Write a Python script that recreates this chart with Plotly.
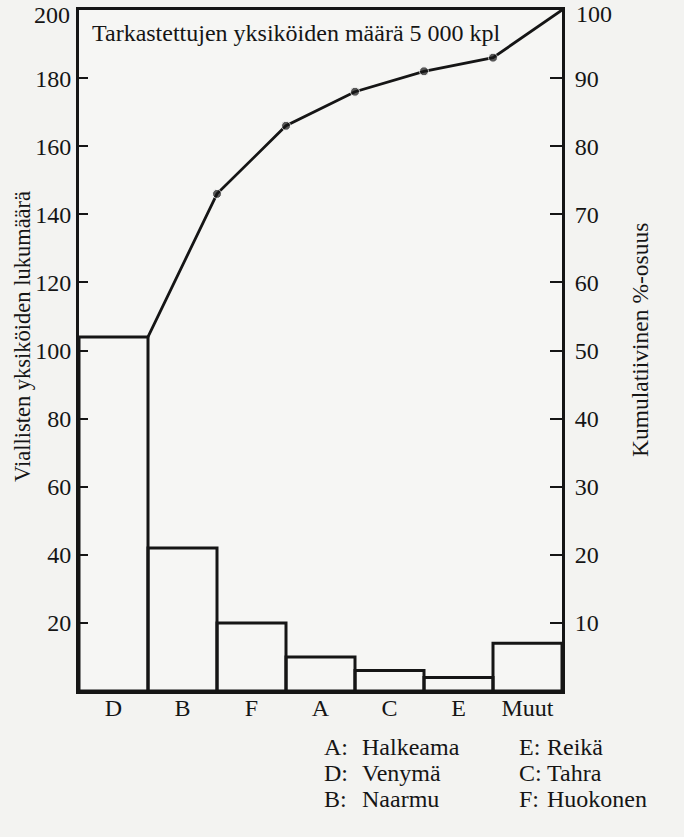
import plotly.graph_objects as go

categories = ["D", "B", "F", "A", "C", "E", "Muut"]
counts = [104, 42, 20, 10, 6, 4, 14]
cum_pct = [52, 73, 83, 88, 91, 93, 100]
left_ticks = [20, 40, 60, 80, 100, 120, 140, 160, 180, 200]
right_ticks = [10, 20, 30, 40, 50, 60, 70, 80, 90, 100]
key_codes = ["A", "D", "B", "E", "C", "F"]
key_names = ["Halkeama", "Venymä", "Naarmu", "Reikä", "Tahra", "Huokonen"]
title_text = "Tarkastettujen yksiköiden määrä 5 000 kpl"
left_title = "Viallisten yksiköiden lukumäärä"
right_title = "Kumulatiivinen %-osuus"

FONT = "Liberation Serif"
INK = "#151515"
W, H = 684, 837
L, T = 79, 10
pw, ph = 483, 681
R = W - L - pw
B = H - T - ph

def px(x):
    return (x - L) / pw

def py(y):
    return (T + ph - y) / ph

xs = list(range(len(categories)))
line_x = [i + 0.5 for i in xs]
msizes = [0] + [9] * (len(categories) - 2) + [0]

# top tick labels are drawn as annotations (plotly culls labels that overflow the page top)
left_text = [str(v) if v != left_ticks[-1] else "" for v in left_ticks]
right_text = [str(v) if v != right_ticks[-1] else "" for v in right_ticks]

fig = go.Figure()
fig.add_trace(go.Bar(x=xs, y=counts, width=1, marker=dict(color="rgba(0,0,0,0)",
                     line=dict(color=INK, width=3)), yaxis="y"))
fig.add_trace(go.Scatter(x=line_x, y=cum_pct, mode="lines+markers", yaxis="y2",
                         line=dict(color=INK, width=2.8),
                         marker=dict(color=INK, size=msizes)))

ann = [dict(text=title_text, x=px(90), y=py(33), xref="paper", yref="paper",
            xanchor="left", yanchor="middle", showarrow=False,
            font=dict(family=FONT, size=24, color=INK)),
       dict(text=left_title, x=px(23), y=py(337), xref="paper", yref="paper",
            xanchor="center", yanchor="middle",
            textangle=-90, showarrow=False, font=dict(family=FONT, size=22.5, color=INK)),
       dict(text=right_title, x=px(640), y=py(340), xref="paper", yref="paper",
            xanchor="center", yanchor="middle",
            textangle=-90, showarrow=False, font=dict(family=FONT, size=23.5, color=INK)),
       dict(text=str(left_ticks[-1]), x=px(71), y=py(1), xref="paper", yref="paper",
            xanchor="right", yanchor="top", borderpad=0, showarrow=False,
            font=dict(family=FONT, size=24, color=INK)),
       dict(text=str(right_ticks[-1]), x=px(575), y=py(0), xref="paper", yref="paper",
            xanchor="left", yanchor="top", borderpad=0, showarrow=False,
            font=dict(family=FONT, size=24, color=INK))]
rows = [747, 773, 799]
for i, (c, n) in enumerate(zip(key_codes, key_names)):
    col = i // 3
    yv = rows[i % 3]
    xc = 322 if col == 0 else 517
    xn = 360 if col == 0 else 545
    ann.append(dict(text=c + ":", x=px(xc), y=py(yv), xref="paper", yref="paper",
                    xanchor="left", yanchor="middle", showarrow=False,
                    font=dict(family=FONT, size=24, color=INK)))
    ann.append(dict(text=n, x=px(xn), y=py(yv), xref="paper", yref="paper",
                    xanchor="left", yanchor="middle", showarrow=False,
                    font=dict(family=FONT, size=24, color=INK)))

fig.update_layout(
    width=W, height=H, margin=dict(l=L, r=R, t=T, b=B, autoexpand=False),
    paper_bgcolor="#f3f3f1", plot_bgcolor="#f6f6f4", showlegend=False,
    font=dict(family=FONT, size=24, color=INK),
    xaxis=dict(range=[-0.5, 6.5], tickvals=xs, ticktext=categories, showgrid=False,
               zeroline=False, showline=True, linecolor=INK, linewidth=3,
               mirror=True, ticks="", tickfont=dict(size=24), automargin=False,
               ticklabelstandoff=-7),
    yaxis=dict(range=[0, 200], tickvals=left_ticks, ticktext=left_text, showgrid=False,
               zeroline=False, showline=True, linecolor=INK, linewidth=3, ticks="inside",
               ticklen=9, tickwidth=2, tickcolor=INK, tickfont=dict(size=24),
               automargin=False),
    yaxis2=dict(range=[0, 100], tickvals=right_ticks, ticktext=right_text, overlaying="y",
                side="right", showgrid=False, zeroline=False, showline=True, linecolor=INK,
                linewidth=3, ticks="inside", ticklen=12, tickwidth=2, tickcolor=INK,
                tickfont=dict(size=24), automargin=False, ticklabelstandoff=5),
    annotations=ann,
)
fig.write_html("out.html", config={"displayModeBar": False},
               post_script="document.body.style.margin='0';")
